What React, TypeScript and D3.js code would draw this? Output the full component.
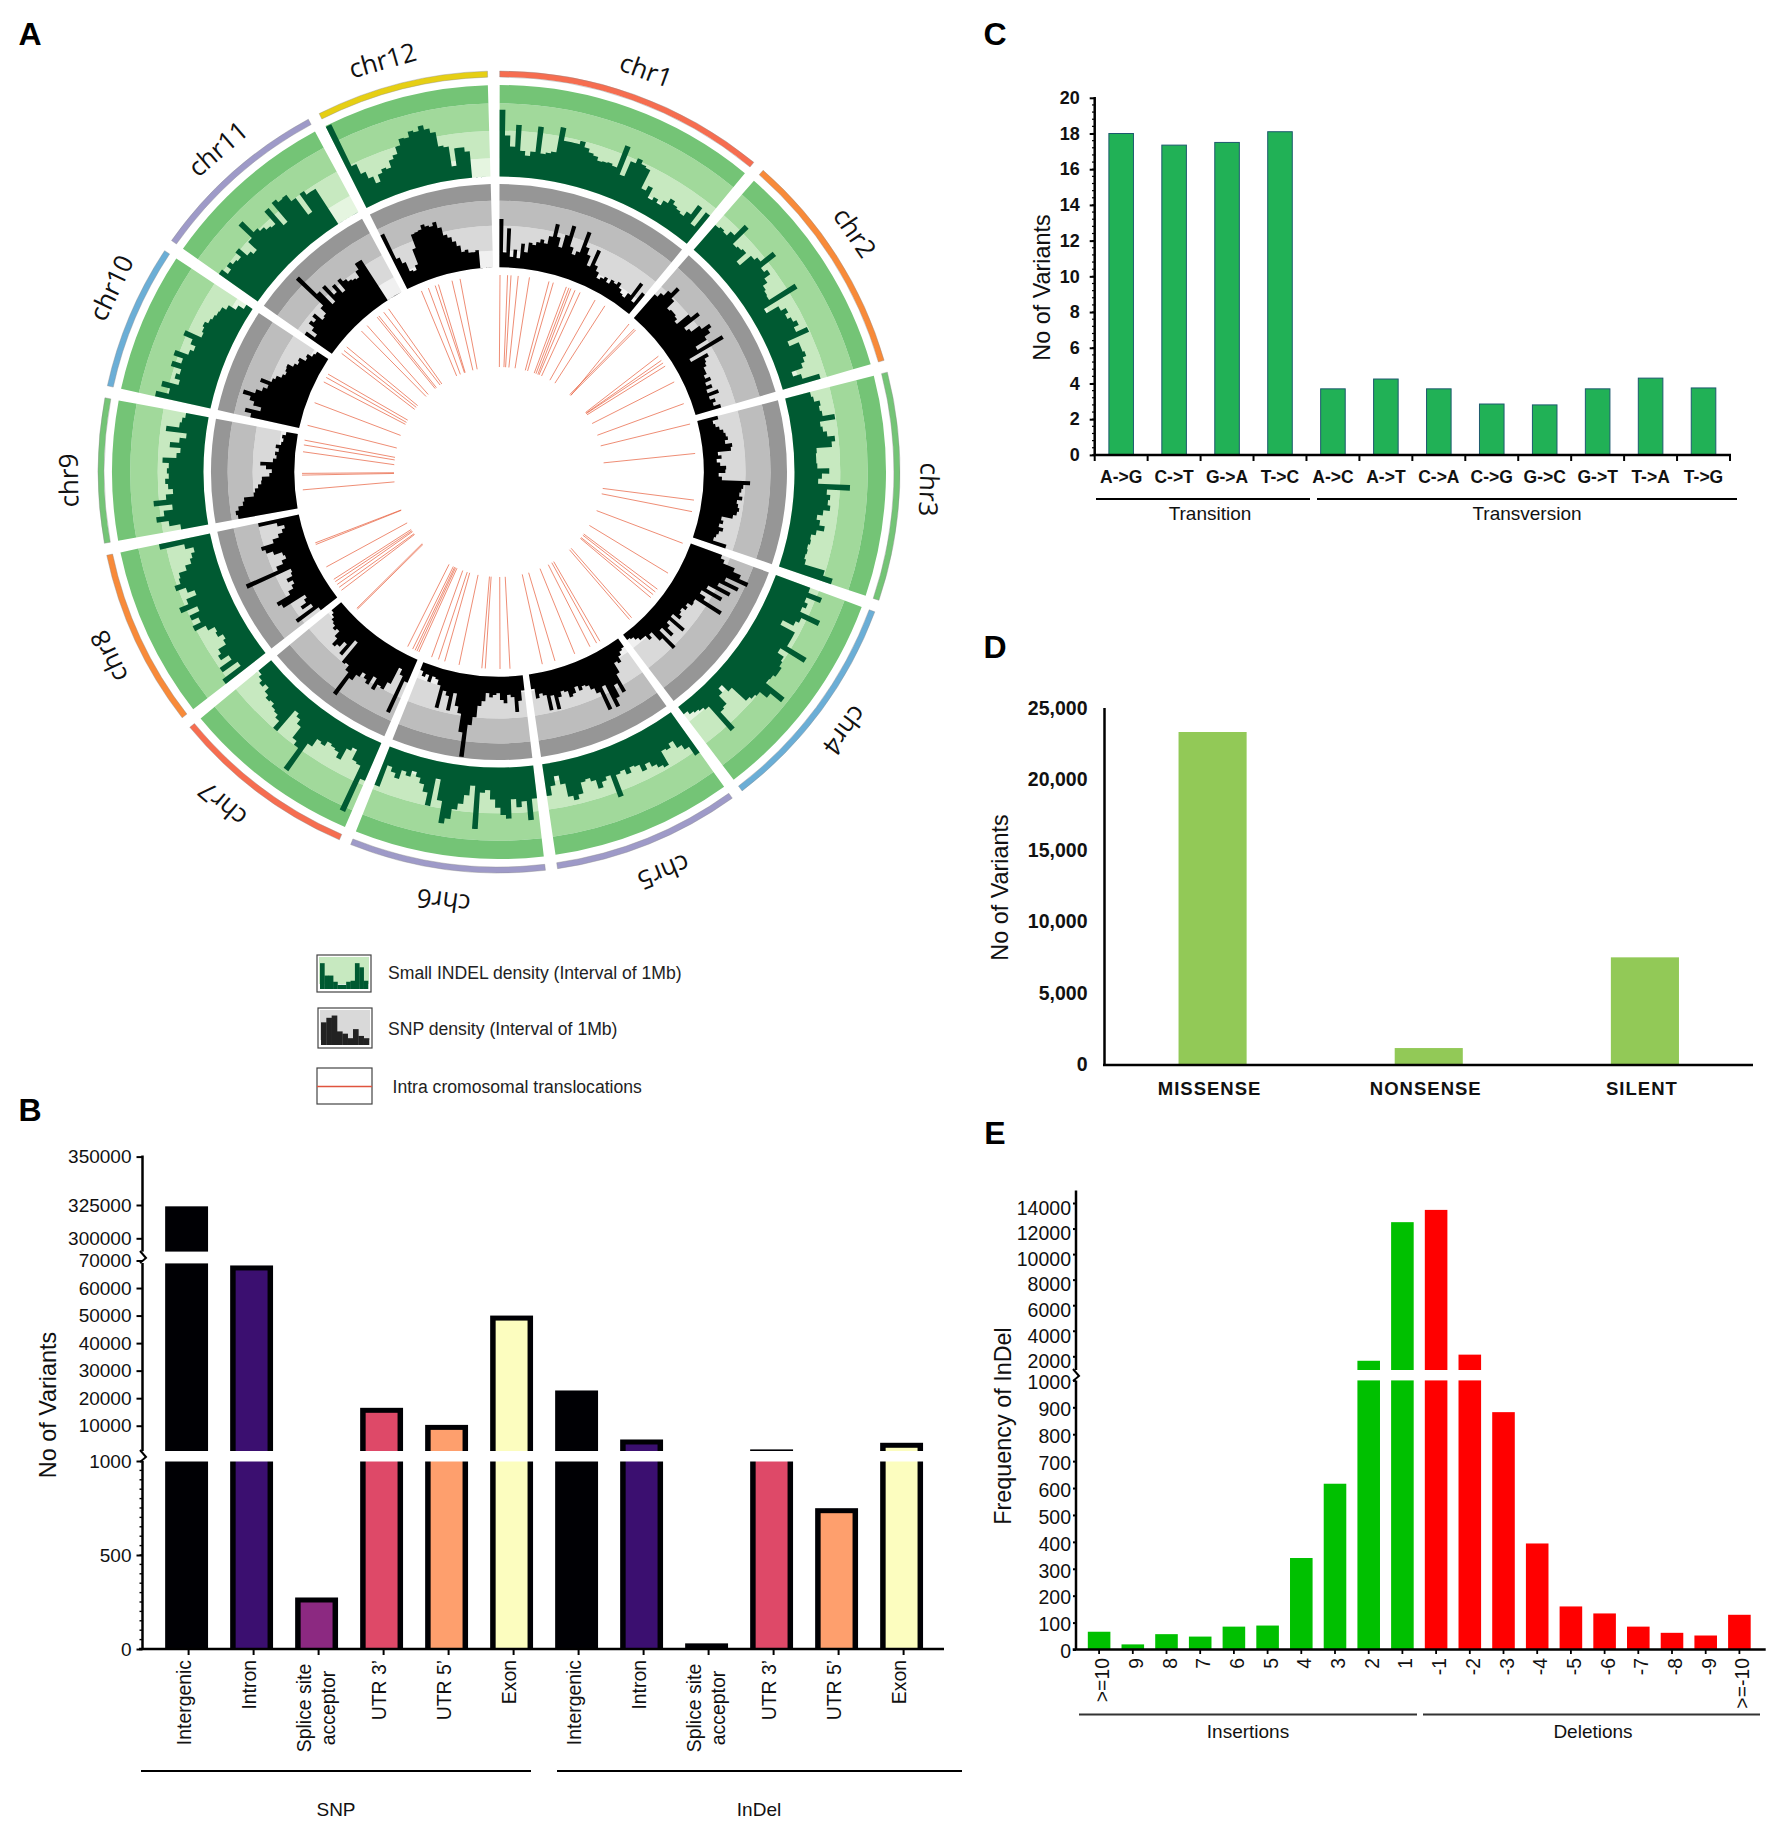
import React, { useEffect, useRef } from "react";
import * as d3 from "d3";

// ---------- Panel A data ----------
const chrNames = ["chr1","chr2","chr3","chr4","chr5","chr6","chr7","chr8","chr9","chr10","chr11","chr12"];
const chrSizesMb = [43.3,35.9,36.4,35.5,29.9,31.2,29.7,28.4,23.0,23.2,29.0,27.5];
const chrLabelDeg = [20,55.8,92,126.5,157.5,187.4,220,245,269.2,295.7,319.2,344.3];
const chrColors = ["#f66d50","#f88a39","#74c476","#6baed6","#9e9ac8","#9e9ac8","#f66d50","#f88a39","#74c476","#6baed6","#9e9ac8","#e6cf14"];
const bandStops = [0,20,50,80,100];
const greenBands = ["#e5f5e0","#c7e9c0","#a1d99b","#74c476"];
const greyBands = ["#f0f0f0","#d9d9d9","#bdbdbd","#969696"];

const indelDensity: number[][] = [
  [73,45,33,57,29,24,29,57,28,30,32,60,46,46,46,50,44,40,38,34,35,36,34,60,28,46,52,48,46,24,30,18,22,18,24,30,26,24,22,28,41,20,40],
  [36,38,36,42,58,34,36,38,24,40,44,61,40,44,36,30,28,27,60,17,32,38,34,38,42,36,49,23,34,34,36,32,28,15,24,43],
  [28,30,36,34,36,49,32,34,38,46,42,25,24,24,25,38,30,26,61,36,40,38,41,34,28,32,38,30,25,26,24,25,24,26,49,60],
  [40,56,40,44,40,64,44,40,27,45,45,45,70,40,48,50,53,53,50,49,75,60,50,48,45,24,14,20,32,34,57,21,18,16,14,10],
  [54,42,36,27,32,30,47,44,40,34,40,32,30,36,30,32,56,30,34,40,30,26,28,40,45,40,25,15,25,35],
  [36,59,38,44,35,56,52,44,35,25,28,68,21,32,42,49,60,66,42,19,50,36,28,22,17,24,20,30,25,20,45],
  [45,85,32,30,18,22,36,30,28,26,32,30,40,77,50,45,30,24,20,50,40,36,34,30,32,28,22,26,22,18],
  [55,30,50,34,44,40,30,27,33,31,39,52,42,50,38,57,46,34,42,53,46,44,35,28,25,21,30,57],
  [30,42,55,46,36,56,42,34,39,42,38,40,38,45,30,26,38,28,21,44,30,28,25],
  [62,48,58,40,46,42,54,44,55,40,36,42,53,34,36,38,34,32,30,29,24,15,8],
  [52,44,50,46,44,52,40,36,49,69,52,48,44,42,60,35,62,58,59,50,27,51,46,46,0,0,0,0,0],
  [99,48,36,28,20,28,32,30,38,42,50,57,56,62,60,65,60,55,39,37,15,34,34,29,0,0,0,0],
];
const snpDensity: number[][] = [
  [58,18,47,13,22,12,30,20,32,30,34,38,34,44,60,45,34,50,63,38,30,35,62,44,36,24,46,28,22,15,18,21,16,22,20,24,18,14,12,19,38,14,30],
  [38,44,52,62,48,36,38,38,36,32,50,60,36,40,52,63,58,50,34,68,20,42,36,34,30,30,26,32,24,30,22,35,22,28,24,32],
  [25,18,20,24,28,30,32,28,36,34,18,22,16,20,27,26,18,22,56,48,46,44,48,42,44,46,44,40,27,30,26,32,28,26,24,41],
  [40,45,60,70,82,55,74,50,68,40,62,36,44,70,35,36,30,33,28,30,34,24,46,25,30,40,25,52,34,20,25,18,18,14,10,8],
  [12,14,18,25,22,35,58,45,60,70,40,69,45,38,32,30,34,28,35,38,30,28,34,48,30,47,28,25,30,18],
  [18,30,43,25,22,32,28,20,22,25,20,30,36,50,60,99,70,48,40,25,47,30,25,47,20,14,12,20,12,16,10],
  [30,72,25,18,40,50,48,56,42,54,50,45,52,60,86,55,48,50,20,44,30,38,42,33,25,28,24,22,18,15],
  [25,56,30,42,34,30,60,64,45,38,34,40,32,30,87,45,36,30,32,42,50,54,38,30,24,20,28,50],
  [72,74,70,64,62,50,48,44,40,39,30,27,34,41,26,22,24,20,24,18,16,18,14],
  [60,68,50,60,66,76,62,55,50,61,48,45,39,36,38,39,32,28,30,22,24,18,16],
  [40,28,36,44,40,46,34,36,45,90,60,38,61,45,54,40,55,50,46,44,42,50,58,58,0,0,0,0,0],
  [72,38,30,18,16,22,41,58,59,60,65,62,60,64,56,46,42,36,30,22,24,20,20,22,0,0,0,0],
];
// translocations: [degrees at the outer end, degrees at the inner end]
const translocations: [number, number][] = [
  [0.3,0.2],[2.5,2.7],[3.5,3.6],[5.6,5.4],[8.9,8.8],[14.7,14.5],[16,15.8],[20,19.6],[20.8,20.6],[21.4,21.7],[22.7,22.4],[24.3,23.9],[29.2,29],[32.5,32.2],
  [41.3,43.2],[43.4,42.4],[43.9,43],[54,55.5],[55.5,56],[56.4,56.2],[57.5,57],[62.8,62.5],[69.7,69.5],[75.9,75.6],[84.6,85],
  [98.2,99],[101.6,102],[111.2,111.6],[120.9,120.6],[126.5,126.2],[127.5,127],[128.5,128.6],[129.6,129.2],[137.7,136.6],[138.5,137.8],
  [149.2,148.6],[150.3,149.8],[152.5,152],[157.4,157],[163.5,163.6],[167.3,167.2],[176.8,176.6],[179.7,179.6],
  [184,184.3],[185,185.2],[191.7,191.5],[196,196.2],[197.9,197.6],[200,200.2],[204,203.6],[204.6,204.4],[205.2,205],[206,205.8],[207.6,208.4],
  [225.9,226.4],[226.2,227],[233.1,233.5],[234.2,234],[235.2,235.4],[236.2,236],[237,236.8],[241.2,241],[248.4,248.6],[248.9,248.8],
  [264.8,264.6],[269.1,269.2],[269.6,269.6],[275.9,274],[277.9,276.6],[279.3,278],[283.7,283.2],[290.6,290.4],[297.2,297],[298.7,298.2],[299.8,299.6],
  [307,306.6],[308.1,308],[309.4,309.2],[315.7,316],[318,317.6],[321.8,322.6],[322.4,323.4],[324.2,325.9],[325.9,327],[336.8,336.2],[339,338.4],[341.1,340.8],[342.1,341.2],[346.2,345.6],[348.6,348],
];
const legendIndelBars = [25,13,13,7,4,4,7,8,25,21,8];
const legendSnpBars = [20,24,26,12,10,6,14,8,6];

// ---------- Panel B data ----------
const regionLabels = ["Intergenic","Intron","Splice site|acceptor","UTR 3\u2019","UTR 5\u2019","Exon"];
const snpCounts = [324000,68200,274,16500,10300,50000];
const indelCounts = [22800,5000,30,1400,749,3800];
const magma = ["#000004","#3b0f70","#8c2981","#de4968","#fe9f6d","#fcfdbf"];
const bTicksLow = [0,500,1000];
const bTicksMid = [10000,20000,30000,40000,50000,60000,70000];
const bTicksTop = [300000,325000,350000];

// ---------- Panel C data ----------
const subCats = ["A->G","C->T","G->A","T->C","A->C","A->T","C->A","C->G","G->C","G->T","T->A","T->G"];
const subValues = [18.0,17.35,17.5,18.1,3.7,4.25,3.7,2.85,2.8,3.7,4.3,3.75];
const cTicks = [0,2,4,6,8,10,12,14,16,18,20];

// ---------- Panel D data ----------
const effectCats = ["MISSENSE","NONSENSE","SILENT"];
const effectValues = [23385,1190,7560];
const dTicks = [0,5000,10000,15000,20000,25000];

// ---------- Panel E data ----------
const sizeCats = [">=10","9","8","7","6","5","4","3","2","1","-1","-2","-3","-4","-5","-6","-7","-8","-9",">=-10"];
const sizeValues = [66,19,57,48,85,89,340,616,1650,12500,13460,2130,882,394,160,134,85,62,52,129];
const eTicksLow = [0,100,200,300,400,500,600,700,800,900,1000];
const eTicksHigh = [2000,4000,6000,8000,10000,12000,14000];

const SANS = "'Liberation Sans', Arial, sans-serif";
const rad = (d: number) => (d * Math.PI) / 180;

function text(g: any, x: number, y: number, s: string, size: number, opts: any = {}) {
  const t = g.append("text")
    .attr("font-family", opts.family || SANS)
    .attr("font-size", size)
    .attr("font-weight", opts.weight || "normal")
    .attr("fill", opts.fill || "#111")
    .attr("text-anchor", opts.anchor || "middle")
    .attr("dominant-baseline", "central")
    .attr("letter-spacing", opts.spacing || 0)
    .attr("transform", `translate(${x},${y}) rotate(${opts.rotate || 0})`)
    .text(s);
  return t;
}

function leftAxis(g: any, scale: any, x: number, tickVals: number[], opts: any = {}) {
  const ax = d3.axisLeft(scale).tickValues(tickVals).tickSize(opts.tick ?? 5).tickPadding(opts.pad ?? 4)
    .tickFormat(opts.format || ((d: any) => String(d)));
  const a = g.append("g").attr("transform", `translate(${x},0)`).call(ax);
  a.select(".domain").remove();
  a.selectAll(".tick line").attr("stroke", "#000").attr("stroke-width", opts.tickWidth ?? 2);
  a.selectAll(".tick text")
    .attr("font-family", SANS).attr("font-size", opts.size ?? 19)
    .attr("font-weight", opts.weight || "normal").attr("fill", "#111");
  if (opts.labelShift) a.selectAll(".tick text").attr("transform", `translate(0,${opts.labelShift})`);
  return a;
}

function vline(g: any, x: number, y0: number, y1: number, w = 2.5) {
  g.append("line").attr("x1", x).attr("x2", x).attr("y1", y0).attr("y2", y1).attr("stroke", "#000").attr("stroke-width", w);
}
function hline(g: any, x0: number, x1: number, y: number, w = 2.5, c = "#000") {
  g.append("line").attr("x1", x0).attr("x2", x1).attr("y1", y).attr("y2", y).attr("stroke", c).attr("stroke-width", w);
}
function breakMark(g: any, x: number, y: number) {
  g.append("path").attr("d", `M${x - 3},${y - 6}L${x + 3},${y + 1}L${x - 3},${y + 6}`)
    .attr("fill", "none").attr("stroke", "#000").attr("stroke-width", 2);
}

function drawCircos(svg: any) {
  const cx = 499, cy = 472;
  const g = svg.append("g").attr("transform", `translate(${cx},${cy})`);
  const gap = 1.75;
  const total = d3.sum(chrSizesMb);
  const mbToDeg = d3.scaleLinear().domain([0, total]).range([0.1, 0.1 + 360 - 12 * gap]);
  const greenR = d3.scaleLinear().domain([0, 100]).range([295.5, 387]);
  const greyR = d3.scaleLinear().domain([0, 100]).range([204.7, 288]);
  const arc = d3.arc();
  let cum = 0;
  chrNames.forEach((name, i) => {
    const a0 = mbToDeg(cum) + i * gap;
    const a1 = mbToDeg(cum + chrSizesMb[i]) + i * gap;
    cum += chrSizesMb[i];
    g.append("path")
      .attr("d", arc({ innerRadius: 395, outerRadius: 401, startAngle: rad(a0), endAngle: rad(a1) } as any))
      .attr("fill", chrColors[i]).attr("stroke", "#8a8a8a").attr("stroke-width", 0.4);
    g.append("text").attr("transform", `translate(0,2.5) rotate(${chrLabelDeg[i]}) translate(0,-431)`)
      .attr("font-family", "'Open Sans', sans-serif").attr("font-size", 26).attr("fill", "#111")
      .attr("text-anchor", "middle").attr("dominant-baseline", "central").text(name);
    const tracks: [any, string[], number[], string][] = [
      [greenR, greenBands, indelDensity[i], "#005a32"],
      [greyR, greyBands, snpDensity[i], "#000000"],
    ];
    tracks.forEach(([rs, bands, vals, col]) => {
      bands.forEach((c, b) => {
        g.append("path")
          .attr("d", arc({ innerRadius: rs(bandStops[b]), outerRadius: rs(bandStops[b + 1]), startAngle: rad(a0), endAngle: rad(a1) } as any))
          .attr("fill", c);
      });
      const binDeg = d3.scaleLinear().domain([0, vals.length]).range([a0, a1]);
      const p = d3.path();
      const r0 = rs(0);
      const toRad = (d: number) => rad(d) - Math.PI / 2;
      p.moveTo(r0 * Math.cos(toRad(a0)), r0 * Math.sin(toRad(a0)));
      vals.forEach((v, k) => {
        const s = toRad(binDeg(k)), e = toRad(binDeg(k + 1));
        const r = rs(v);
        p.lineTo(r * Math.cos(s), r * Math.sin(s));
        p.arc(0, 0, r, s, e, false);
      });
      p.lineTo(r0 * Math.cos(toRad(a1)), r0 * Math.sin(toRad(a1)));
      p.arc(0, 0, r0, toRad(a1), toRad(a0), true);
      p.closePath();
      g.append("path").attr("d", p.toString()).attr("fill", col);
    });
  });
  const linkPath = d3.lineRadial<[number, number]>().angle((d) => rad(d[0])).radius((d) => d[1]);
  translocations.forEach(([o, n]) => {
    g.append("path").attr("d", linkPath([[o, 197], [n, 105]]))
      .attr("fill", "none").attr("stroke", "#e8603f").attr("stroke-width", 0.85).attr("stroke-opacity", 0.85);
  });
}

function drawLegend(svg: any) {
  const g = svg.append("g");
  const boxes = [
    { x: 317, y: 955, w: 54, h: 37, bg: "#c7e9c0", bars: legendIndelBars, col: "#005a32" },
    { x: 318, y: 1008, w: 54, h: 40, bg: "#d9d9d9", bars: legendSnpBars, col: "#222" },
  ];
  boxes.forEach((b) => {
    g.append("rect").attr("x", b.x).attr("y", b.y).attr("width", b.w).attr("height", b.h).attr("fill", "#fff").attr("stroke", "#444").attr("stroke-width", 1.2);
    g.append("rect").attr("x", b.x + 2).attr("y", b.y + 2).attr("width", b.w - 4).attr("height", b.h - 10).attr("fill", b.bg);
    const bx = d3.scaleBand<number>().domain(d3.range(b.bars.length)).range([b.x + 3, b.x + b.w - 3]);
    const by = d3.scaleLinear().domain([0, 30]).range([b.y + b.h - 3, b.y + 3]);
    b.bars.forEach((v, k) => {
      g.append("rect").attr("x", bx(k)!).attr("y", by(v)).attr("width", bx.bandwidth() + 0.3).attr("height", by(0) - by(v)).attr("fill", b.col);
    });
  });
  g.append("rect").attr("x", 317).attr("y", 1068).attr("width", 55).attr("height", 36).attr("fill", "#fff").attr("stroke", "#444").attr("stroke-width", 1.2);
  hline(g, 317, 372, 1086.5, 1.5, "#e0543f");
  text(g, 388, 973, "Small INDEL density (Interval of 1Mb)", 17.6, { anchor: "start", fill: "#222" });
  text(g, 388, 1029, "SNP density (Interval of 1Mb)", 17.6, { anchor: "start", fill: "#222" });
  text(g, 392.5, 1087, "Intra cromosomal translocations", 17.6, { anchor: "start", fill: "#222" });
}

function drawB(svg: any) {
  const g = svg.append("g");
  const yLow = d3.scaleLinear().domain([0, 1000]).range([1649, 1461]);
  const yMid = d3.scaleLinear().domain([1000, 70000]).range([1450.5, 1260.5]);
  const yTop = d3.scaleLinear().domain([300000, 325000, 350000]).range([1238.3, 1205, 1156.6]);
  const y = (v: number) => (v <= 1000 ? yLow(v) : v <= 72000 ? yMid(v) : yTop(v));
  const cats = [...regionLabels.map((d) => "S:" + d), ...regionLabels.map((d) => "I:" + d)];
  const x = d3.scaleBand().domain(cats).range([154.1, 934.1]).paddingInner(0.34).paddingOuter(0.17);
  const vals = [...snpCounts, ...indelCounts];
  vals.forEach((v, i) => {
    const c = i % 6;
    const bx = x(cats[i])!, bw = x.bandwidth();
    const top = y(v);
    g.append("rect").attr("x", bx).attr("y", top).attr("width", bw).attr("height", 1649 - top).attr("fill", "#000004");
    if (c > 0 && 1649 - top > 8 && !(v > 1000 && v < 2500)) {
      g.append("rect").attr("x", bx + 5.5).attr("y", top + 5).attr("width", bw - 11).attr("height", 1649 - top - 5).attr("fill", magma[c]);
    } else if (c > 0 && v > 1000 && v < 2500) {
      g.append("rect").attr("x", bx + 5.5).attr("y", 1452).attr("width", bw - 11).attr("height", 197).attr("fill", magma[c]);
    }
  });
  g.append("rect").attr("x", 136).attr("y", 1251.6).attr("width", 800).attr("height", 11.8).attr("fill", "#fff");
  g.append("rect").attr("x", 136).attr("y", 1451).attr("width", 800).attr("height", 10.5).attr("fill", "#fff");
  vline(g, 142.5, 1155.5, 1251.6);
  vline(g, 142.5, 1263, 1451);
  vline(g, 142.5, 1461, 1650);
  breakMark(g, 143, 1257);
  breakMark(g, 143, 1456);
  const lbl = { size: 19, tick: 6, pad: 5 };
  leftAxis(g, yLow, 142.5, bTicksLow, lbl);
  leftAxis(g, yMid, 142.5, bTicksMid, lbl);
  leftAxis(g, yTop, 142.5, bTicksTop, lbl);
  d3.range(0, 1000, 50).forEach((v) => {
    g.append("line").attr("x1", 139.5).attr("x2", 142).attr("y1", yLow(v)).attr("y2", yLow(v)).attr("stroke", "#000").attr("stroke-width", 1.4);
  });
  hline(g, 139, 944, 1649);
  text(g, 47.5, 1405, "No of Variants", 23.4, { rotate: -90 });
  cats.forEach((c, i) => {
    const cx = x(c)! + x.bandwidth() / 2;
    g.append("line").attr("x1", cx + 2).attr("x2", cx + 2).attr("y1", 1649).attr("y2", 1655).attr("stroke", "#000").attr("stroke-width", 2);
    const parts = c.slice(2).split("|");
    if (parts.length > 1) {
      text(g, cx - 13, 1708, parts[0], 19.4, { rotate: -90 });
      text(g, cx + 11, 1708, parts[1], 19.4, { rotate: -90 });
    } else {
      text(g, cx - 3, 1660, parts[0], 19.4, { rotate: -90, anchor: "end" });
    }
  });
  hline(g, 141, 531, 1771, 1.8);
  hline(g, 557, 962, 1771, 1.8);
  text(g, 336, 1809, "SNP", 19);
  text(g, 759, 1809, "InDel", 19);
}

function drawC(svg: any) {
  const g = svg.append("g");
  const y = d3.scaleLinear().domain([0, 20]).range([454.9, 97.8]);
  const x = d3.scaleBand().domain(subCats).range([1094.7, 1730]).paddingInner(0.536).paddingOuter(0.268);
  subValues.forEach((v, i) => {
    g.append("rect").attr("x", x(subCats[i])!).attr("y", y(v)).attr("width", x.bandwidth()).attr("height", y(0) - y(v))
      .attr("fill", "#21b156").attr("stroke", "#1d5a6e").attr("stroke-width", 1);
  });
  vline(g, 1094.7, 97, 456);
  d3.range(0, 20, 0.4).forEach((v) => {
    g.append("line").attr("x1", 1092).attr("x2", 1094.7).attr("y1", y(v)).attr("y2", y(v)).attr("stroke", "#000").attr("stroke-width", 1.2);
  });
  leftAxis(g, y, 1094.7, cTicks, { size: 18, weight: "bold", tick: 5, pad: 10 });
  hline(g, 1093.5, 1731, 454.9);
  x.domain().concat([""]).forEach((c, i) => {
    const tx = 1094.7 + i * x.step();
    g.append("line").attr("x1", tx).attr("x2", tx).attr("y1", 455).attr("y2", 461).attr("stroke", "#000").attr("stroke-width", 2);
  });
  subCats.forEach((c) => text(g, x(c)! + x.bandwidth() / 2, 477, c, 17.5, { weight: "bold" }));
  text(g, 1042, 287.5, "No of Variants", 23.4, { rotate: -90 });
  hline(g, 1096, 1310, 499, 1.8);
  hline(g, 1317, 1737, 499, 1.8);
  text(g, 1210, 513, "Transition", 19);
  text(g, 1527, 513, "Transversion", 19);
}

function drawD(svg: any) {
  const g = svg.append("g");
  const y = d3.scaleLinear().domain([0, 25000]).range([1065, 709]);
  const x = d3.scaleBand().domain(effectCats).range([1104.5, 1753]).paddingInner(0.685).paddingOuter(0.3425);
  effectValues.forEach((v, i) => {
    g.append("rect").attr("x", x(effectCats[i])!).attr("y", y(v)).attr("width", x.bandwidth()).attr("height", y(0) - y(v)).attr("fill", "#92c957");
  });
  vline(g, 1104.5, 708, 1066);
  hline(g, 1103, 1753, 1065);
  leftAxis(g, y, 1104.5, dTicks, { size: 19.5, weight: "bold", tick: 0, pad: 17, format: d3.format(","), labelShift: -1 });
  text(g, 1000, 887.5, "No of Variants", 23.4, { rotate: -90 });
  effectCats.forEach((c) => text(g, x(c)! + x.bandwidth() / 2 - 3, 1088, c, 18.5, { weight: "bold", spacing: 1 }));
}

function drawE(svg: any) {
  const g = svg.append("g");
  const yLow = d3.scaleLinear().domain([0, 1000]).range([1649.5, 1380.4]);
  const yHigh = d3.scaleLinear().domain([2000, 14000]).range([1356.3, 1203]);
  const y = (v: number) => (v <= 1000 ? yLow(v) : yHigh(v));
  const step = 33.7;
  const x = d3.scaleBand().domain(sizeCats).range([1099.1 - step / 2, 1099.1 + 19.5 * step]).paddingInner(0.33).paddingOuter(0.165);
  sizeValues.forEach((v, i) => {
    g.append("rect").attr("x", x(sizeCats[i])!).attr("y", y(v)).attr("width", x.bandwidth()).attr("height", 1649.5 - y(v))
      .attr("fill", i < 10 ? "#00c000" : "#ff0000");
  });
  g.append("rect").attr("x", 1070).attr("y", 1370).attr("width", 690).attr("height", 10.4).attr("fill", "#fff");
  vline(g, 1076, 1190.5, 1370);
  vline(g, 1076, 1380.4, 1650);
  breakMark(g, 1076, 1375);
  leftAxis(g, yLow, 1076, eTicksLow, { size: 19.5, tick: 3, pad: 2, labelShift: 2 });
  leftAxis(g, yHigh, 1076, eTicksHigh, { size: 19.5, tick: 3, pad: 2, labelShift: 5 });
  hline(g, 1072.7, 1765.7, 1649.5);
  sizeCats.forEach((c) => {
    const cx = x(c)! + x.bandwidth() / 2;
    g.append("line").attr("x1", cx).attr("x2", cx).attr("y1", 1649.5).attr("y2", 1654).attr("stroke", "#000").attr("stroke-width", 1.8);
    text(g, cx + 3, 1658, c, 19.4, { rotate: -90, anchor: "end" });
  });
  text(g, 1003, 1426, "Frequency of InDel", 23.4, { rotate: -90 });
  hline(g, 1079, 1417, 1714.5, 2, "#333");
  hline(g, 1423, 1760, 1714.5, 2, "#333");
  text(g, 1248, 1731, "Insertions", 19);
  text(g, 1593, 1731, "Deletions", 19);
}

export default function App() {
  const ref = useRef<SVGSVGElement | null>(null);
  useEffect(() => {
    const svg = d3.select(ref.current);
    svg.selectAll("*").remove();
    svg.append("rect").attr("width", 1775).attr("height", 1821).attr("fill", "#fff");
    drawCircos(svg);
    drawLegend(svg);
    drawB(svg);
    drawC(svg);
    drawD(svg);
    drawE(svg);
    ([["A", 30, 34], ["B", 30, 1110], ["C", 995, 34], ["D", 995, 647], ["E", 995, 1133]] as [string, number, number][]).forEach(([s, x, y]) =>
      text(svg, x, y, s, 32, { weight: "bold", fill: "#000" })
    );
  }, []);
  return <svg ref={ref} width={1775} height={1821} style={{ position: "absolute", left: 0, top: 0, display: "block" }} />;
}
